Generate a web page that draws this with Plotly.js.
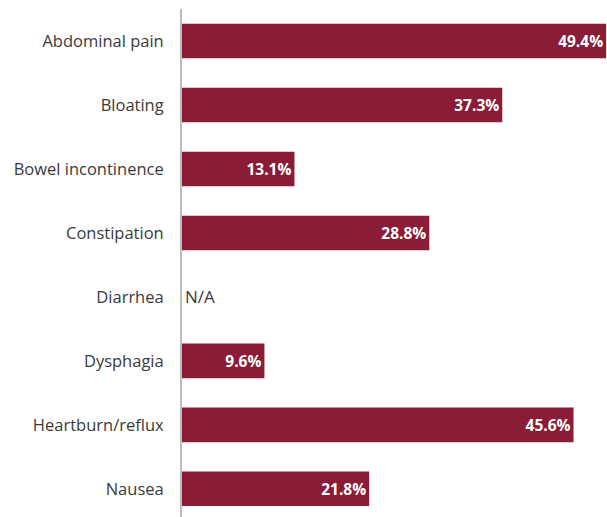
<!DOCTYPE html>
<html>
<head>
<meta charset="utf-8">
<script src="https://cdn.plot.ly/plotly-3.0.1.min.js"></script>
<style>html,body{margin:0;padding:0;background:#fff;}#chart{width:607px;height:517px;}</style>
</head>
<body>
<div id="chart"></div>
<script>
const categories = ["Abdominal pain", "Bloating", "Bowel incontinence", "Constipation", "Diarrhea", "Dysphagia", "Heartburn/reflux", "Nausea"];
const values = [49.4, 37.3, 13.1, 28.8, 0, 9.6, 45.6, 21.8];
const labels = ["49.4%", "37.3%", "13.1%", "28.8%", "N/A", "9.6%", "45.6%", "21.8%"];
const missing = [false, false, false, false, true, false, false, false];

const barColor = "#8b1c35";
const trace = {
  type: "bar",
  orientation: "h",
  y: categories,
  x: values,
  text: labels,
  textposition: missing.map(m => m ? "outside" : "inside"),
  insidetextanchor: "end",
  textangle: 0,
  constraintext: "none",
  cliponaxis: false,
  textfont: {
    family: "Open Sans, sans-serif",
    size: missing.map(m => m ? 17 : 15.5),
    color: missing.map(m => m ? "#3a3a3a" : "#ffffff"),
    weight: missing.map(m => m ? 400 : 700)
  },
  marker: {color: barColor, line: {width: 0}},
  hoverinfo: "none"
};

const layout = {
  width: 607, height: 517,
  margin: {l: 182, r: 0, t: 9, b: 0},
  paper_bgcolor: "#ffffff",
  plot_bgcolor: "#ffffff",
  showlegend: false,
  bargap: 0.46,
  xaxis: {range: [0, 49.5], visible: false, fixedrange: true},
  yaxis: {
    type: "category",
    range: [7.44, -0.5],
    showline: true,
    linecolor: "#bdbdbd",
    linewidth: 2,
    showgrid: false,
    zeroline: false,
    ticks: "outside",
    ticklen: 13,
    tickcolor: "rgba(0,0,0,0)",
    tickfont: {family: "Open Sans, sans-serif", size: 16.5, color: "#3a3a3a"}
  }
};

Plotly.newPlot("chart", [trace], layout, {displayModeBar: false, staticPlot: true});
</script>
</body>
</html>
